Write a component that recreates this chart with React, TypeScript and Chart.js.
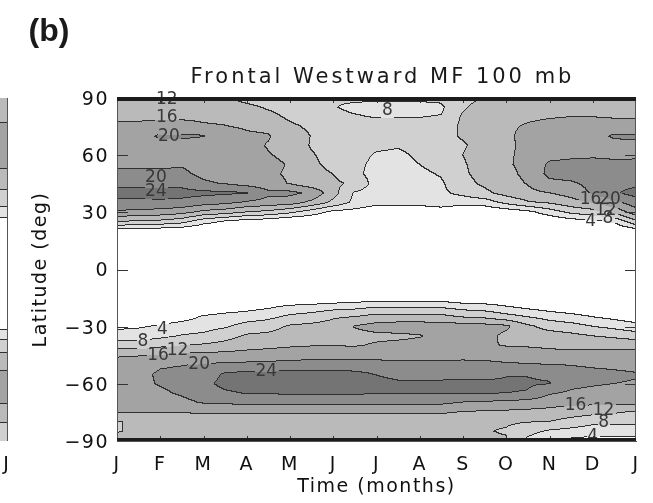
import { useEffect, useRef } from 'react';
import { Chart, registerables } from 'chart.js';

Chart.register(...registerables);

// ---------- axes / categories ----------
const monthLabels = ['J', 'F', 'M', 'A', 'M', 'J', 'J', 'A', 'S', 'O', 'N', 'D', 'J'];
const latitudeTicks = [-90, -60, -30, 0, 30, 60, 90];
const chartTitle = 'Frontal Westward MF 100 mb';
const panelLetter = '(b)';

// grid on which the field was read (months since 1 Jan, latitude in deg)
const gridMonths = [0, 0.5, 1, 1.5, 2, 2.5, 3, 3.5, 4, 4.5, 5, 5.5, 6, 6.5, 7, 7.5, 8, 8.5, 9, 9.5, 10, 10.5, 11, 11.5, 12];
const gridLatitudes = [90, 85, 80, 75, 70, 65, 60, 55, 50, 45, 40, 35, 30, 25, 20, 15, 10, 5, 0, -5, -10, -15, -20, -25, -30, -35, -40, -45, -50, -55, -60, -65, -70, -75, -80, -85, -90];

// ---------- momentum flux, one latitude profile (90N -> 90S) per half month ----------
const jan1 = [11, 14.5, 15.5, 16.5, 17.5, 18, 18.8, 19.5, 20.5, 23, 25.5, 23, 19.5, 12, 2, 0, 0, 0, 0, 0, 0, 0, 0, 0, 3, 6, 10, 15.5, 17.5, 18.5, 18.5, 18, 17.5, 16.2, 11.8, 11.8, 13];
const jan15 = [11, 14.5, 15.5, 16.5, 18.5, 18.3, 18.8, 19.5, 20.5, 23, 25.5, 23, 19, 11.5, 1.5, 0, 0, 0, 0, 0, 0, 0, 0, 0.5, 3.5, 6, 10, 15.7, 18, 19, 19, 18.5, 17.8, 16.3, 12.5, 12.5, 13];
const feb1 = [11.5, 14.5, 15.5, 17, 20.5, 19, 19, 19.5, 20.5, 23, 25.5, 23.3, 18.5, 11, 1, 0, 0, 0, 0, 0, 0, 0, 0, 1, 4.5, 7, 11, 16.2, 19.5, 20.5, 20.3, 19.3, 18, 16.3, 13, 12.5, 13];
const feb15 = [11.5, 14.5, 15.5, 17, 20.5, 19, 19, 19.7, 20.7, 22.8, 25.3, 23, 17.5, 9.5, 0.5, 0, 0, 0, 0, 0, 0, 0, 0, 2, 6, 8.2, 12.2, 16.8, 19.8, 21, 21.2, 20.5, 19, 16.3, 13, 12.5, 13];
const mar1 = [12, 14.5, 15.5, 16.3, 20.2, 18.5, 18.5, 18.8, 19.2, 20.5, 25, 21.8, 15, 5.5, 0, 0, 0, 0, 0, 0, 0, 0, 0.5, 4.5, 6.5, 8.8, 12.5, 17, 20.2, 22, 23, 22, 20.3, 16.5, 13, 12.5, 13];
const mar15 = [12.3, 14.3, 15.3, 16.1, 17.5, 18, 18.2, 18.5, 18.8, 19.8, 24.6, 21, 14, 3.5, 0, 0, 0, 0, 0, 0, 0, 0, 1.5, 5.5, 7.5, 10.5, 13.3, 17.3, 20.6, 24.5, 25, 23.5, 20.5, 16.5, 13, 12.5, 13];
const apr1 = [10.5, 13, 14.5, 15.6, 16.5, 17, 17.3, 17.8, 18.3, 18.5, 24.3, 19.5, 12, 2, 0, 0, 0, 0, 0, 0, 0, 0, 2.5, 6, 9.5, 12.5, 14.5, 17.5, 20.8, 25, 25.5, 24.2, 21, 16.8, 13, 12.5, 13];
const apr15 = [9.5, 11.5, 13.3, 15, 16.3, 15.8, 16.2, 16.8, 16.7, 17.5, 21, 18.5, 11, 1.5, 0, 0, 0, 0, 0, 0, 0, 0, 3.5, 7, 10.3, 13, 15, 17.8, 21, 25.2, 25.8, 24.3, 21, 16.8, 13, 12.5, 13];
const may1 = [8.8, 10, 11.3, 12.7, 14, 14.5, 15.2, 15.8, 15.5, 15.8, 21, 18, 9, 0, 0, 0, 0, 0, 0, 0, 0, 0, 5, 8.8, 12.5, 14, 15.5, 18.2, 21.2, 25.3, 26, 24.5, 21.2, 16.8, 13, 12.5, 13];
const may15 = [8.3, 9.3, 10.3, 11.3, 11.9, 11.7, 12.3, 12.6, 13, 13.5, 19.3, 15, 6, 0, 0, 0, 0, 0, 0, 0, 0, 0.3, 5.5, 9.8, 13, 14.5, 15.8, 18.5, 21.5, 25.3, 26, 24.5, 21.2, 16.8, 13, 12.5, 13];
const jun1 = [8.3, 8.2, 8.8, 9.5, 10.2, 10.5, 10.8, 11.2, 12, 12.8, 13.5, 11, 3, 0, 0, 0, 0, 0, 0, 0, 0, 0.5, 6.5, 11.5, 13.5, 14.8, 15.9, 18.5, 21.5, 25.3, 26, 24.5, 21, 16.8, 13, 12.5, 13];
const jun15 = [8.8, 7.3, 8.3, 9.2, 9.7, 10, 9.8, 9.3, 9, 11.3, 7.6, 7, 2.5, 0, 0, 0, 0, 0, 0, 0, 0, 1, 7, 12, 16.2, 14.8, 15.7, 18.5, 21.5, 25, 26, 24.5, 21, 16.8, 13, 12.5, 13];
const jul1 = [8.7, 6.8, 7.8, 9.3, 9.5, 9, 7.5, 6.8, 6.5, 6.3, 6, 5, 1.5, 0, 0, 0, 0, 0, 0, 0, 0, 1.5, 8, 13.5, 17.5, 15.2, 16.4, 18.5, 21.3, 23.8, 25.5, 24.3, 20.8, 16.8, 13, 12.5, 13];
const jul15 = [8.7, 6.8, 7.8, 9.3, 9.4, 8.3, 7.3, 6.8, 6.5, 6.3, 6, 5, 1.8, 0, 0, 0, 0, 0, 0, 0, 0, 1.5, 8, 13.5, 18, 15.3, 16.8, 18.5, 21, 22.5, 24.8, 24.3, 20.8, 16.8, 13, 12.5, 13];
const aug1 = [8.7, 7, 7.9, 9.2, 9.5, 9.3, 8.6, 8, 7.2, 6.8, 6.5, 5.5, 1, 0, 0, 0, 0, 0, 0, 0, 0, 1.5, 8, 13.5, 18, 15.8, 17, 18.5, 21, 22.5, 24.8, 24.3, 20.8, 16.8, 13, 12.5, 13];
const aug15 = [9, 7.3, 8.2, 9.6, 10.5, 10, 9.8, 9.3, 8.3, 7.5, 7.3, 6.5, 1.5, 0, 0, 0, 0, 0, 0, 0, 0, 1.5, 7.8, 13.2, 18, 16.8, 17, 18.5, 21, 22.5, 24.8, 24.3, 20.8, 16.6, 13, 12.5, 13];
const sep1 = [11, 11.5, 12.5, 12.8, 12.5, 11.5, 12, 11.5, 11.3, 10.5, 9, 5.7, 0, 0, 0, 0, 0, 0, 0, 0, 0, 0.5, 6.5, 11.8, 17.8, 18, 17.5, 18.8, 21, 22.7, 24.8, 24.3, 19.8, 15.8, 13, 12.5, 13];
const sep15 = [12, 13.5, 14, 14.2, 14, 13.8, 14, 14, 13.5, 12.8, 11, 6, 0.5, 0, 0, 0, 0, 0, 0, 0, 0, 0.3, 6, 11.2, 17.5, 17.5, 16.5, 18.5, 21, 22.8, 24.7, 24.2, 19.5, 15.5, 12.8, 12.3, 13];
const oct1 = [12.5, 14, 15, 15.5, 15.5, 15.3, 15.5, 15.5, 15, 14.5, 13.5, 9, 1.5, 0, 0, 0, 0, 0, 0, 0, 0, 0, 4.5, 9.5, 16.8, 15, 15.8, 18, 20.5, 23.7, 24.6, 24, 19, 15.3, 12.6, 11.6, 12.5];
const oct15 = [13, 14.5, 15.5, 16.3, 16.8, 16.8, 16.8, 17, 16.8, 16.2, 15, 11.5, 3, 0, 0, 0, 0, 0, 0, 0, 0, 0, 3.2, 8, 12.8, 14.5, 15.6, 17.8, 20.2, 23.8, 24.4, 23.8, 18.5, 15, 12.2, 9.5, 7];
const nov1 = [13, 14.7, 15.8, 16.8, 17.5, 18, 18.8, 20.6, 21, 19, 16, 12.5, 6, 0.5, 0, 0, 0, 0, 0, 0, 0, 0, 2, 6.5, 10.5, 13.8, 15.3, 17.3, 20, 23.3, 24.2, 20.5, 17.5, 14.8, 12, 7.5, 4];
const nov15 = [12.5, 14.5, 16, 17, 17.8, 18.3, 19.2, 21, 21.5, 19.5, 17.5, 14.5, 9, 2, 0, 0, 0, 0, 0, 0, 0, 0, 1.3, 5.3, 9.6, 13, 15, 17, 19.8, 21.5, 21.2, 19.3, 17, 14, 10.5, 6.8, 3];
const dec1 = [12, 14.3, 16, 17.2, 18.5, 18.5, 19.5, 21, 21.8, 21, 20.5, 16, 10.5, 3, 0, 0, 0, 0, 0, 0, 0, 0, 0.5, 4, 8, 12, 15, 17, 19.4, 21, 20.5, 18.8, 17, 13.2, 9.2, 5.8, 2.5];
const dec15 = [11.5, 14, 15.7, 17.5, 20.5, 19, 19.5, 20.5, 21.5, 22.5, 23.5, 19, 13, 4.5, 0, 0, 0, 0, 0, 0, 0, 0, 0, 2.8, 6.8, 11.2, 15, 17.3, 19.2, 20.6, 20, 18.5, 16.8, 12.5, 9.2, 5.8, 2.5];
const jan1Next = [11, 14.5, 15.5, 17.5, 20.5, 19.3, 19.6, 20.5, 21.5, 23, 25.5, 22, 18.5, 11, 1.5, 0, 0, 0, 0, 0, 0, 0, 0, 1.5, 5.5, 10, 15, 17.5, 19, 20.2, 19.8, 18.5, 17, 11.5, 9.2, 5.8, 2.8];

const fluxColumns = [jan1, jan15, feb1, feb15, mar1, mar15, apr1, apr15, may1, may15, jun1, jun15, jul1, jul15, aug1, aug15, sep1, sep15, oct1, oct15, nov1, nov15, dec1, dec15, jan1Next];

// right-hand edge of neighbouring panel (a), same latitude grid
const panelAEdge = [14, 13, 15, 17, 18, 18, 17, 16.5, 15, 13, 11, 9, 6, 2, 0, 0, 0, 0, 0, 0, 0, 0, 0, 0, 3, 7, 10, 13, 15, 17, 18, 17, 16, 14, 12, 11, 12];

// contour levels and shading
const contourLevels = [4, 8, 12, 16, 20, 24];
const bandGrays = ['#ffffff', '#e3e3e3', '#d0d0d0', '#bababa', '#a3a3a3', '#8c8c8c', '#747474'];
const lineGray = '#2f2f2f';

// contour labels
const labelTexts = ['12', '16', '20', '20', '24', '8', '16', '20', '12', '4', '8', '4', '8', '16', '12', '20', '24', '16', '12', '8', '4'];
const labelMonths = [1.15, 1.15, 1.2, 0.9, 0.9, 6.25, 10.95, 11.4, 11.3, 10.95, 11.35, 1.05, 0.6, 0.95, 1.4, 1.9, 3.45, 10.6, 11.25, 11.25, 11.0];
const labelLats = [89.3, 79.5, 69.5, 48.5, 41, 83.5, 36.5, 36.5, 31, 25, 26.5, -31.3, -38, -45, -42.3, -49.8, -53.5, -71.5, -74, -80.5, -87.5];

const FONT = "'DejaVu Sans', sans-serif";
const labelFont = `17px ${FONT}`;

function hexToRgb(h: string) {
  return [parseInt(h.slice(1, 3), 16), parseInt(h.slice(3, 5), 16), parseInt(h.slice(5, 7), 16)];
}

function locate(axis: number[], v: number): [number, number] {
  const n = axis.length;
  for (let k = 0; k < n - 1; k++) {
    const a = axis[k], b = axis[k + 1];
    if (v >= Math.min(a, b) && v <= Math.max(a, b)) return [k, (v - a) / (b - a)];
  }
  const asc = axis[n - 1] > axis[0];
  const before = asc ? v < axis[0] : v > axis[0];
  return before ? [0, 0] : [n - 2, 1];
}

function bandOf(v: number) {
  let b = 0;
  for (const lv of contourLevels) if (v >= lv) b++;
  return b;
}

const contourPlugin = {
  id: 'contourField',
  beforeDraw(chart: any) {
    const ctx = chart.ctx as CanvasRenderingContext2D;
    (ctx as any).letterSpacing = '1.5px';
    const xs = chart.scales.x, ys = chart.scales.y;
    const a = chart.chartArea;
    const L = Math.round(a.left), T = Math.round(a.top);
    const W = Math.round(a.right) - L, H = Math.round(a.bottom) - T;

    const cI = new Int32Array(W), cT = new Float64Array(W);
    for (let i = 0; i < W; i++) {
      const [k, t] = locate(gridMonths, xs.getValueForPixel(L + i + 0.5));
      cI[i] = k; cT[i] = t;
    }
    const rI = new Int32Array(H), rT = new Float64Array(H);
    for (let j = 0; j < H; j++) {
      const [k, t] = locate(gridLatitudes, ys.getValueForPixel(T + j + 0.5));
      rI[j] = k; rT[j] = t;
    }
    const bands = new Uint8Array(W * H);
    for (let j = 0; j < H; j++) {
      const r = rI[j], u = rT[j];
      for (let i = 0; i < W; i++) {
        const c = cI[i], t = cT[i];
        const c0 = fluxColumns[c], c1 = fluxColumns[c + 1];
        const top = c0[r] + (c1[r] - c0[r]) * t;
        const bot = c0[r + 1] + (c1[r + 1] - c0[r + 1]) * t;
        bands[j * W + i] = bandOf(top + (bot - top) * u);
      }
    }

    ctx.save();
    ctx.font = labelFont;
    (ctx as any).letterSpacing = '0px';
    const boxes = labelTexts.map((txt, n) => {
      const px = xs.getPixelForValue(labelMonths[n]) - L;
      const py = ys.getPixelForValue(labelLats[n]) - T;
      const w = ctx.measureText(txt).width;
      return [px - w / 2 - 1, px + w / 2 + 1, py - 7, py + 7];
    });
    ctx.restore();

    const img = ctx.createImageData(W, H);
    const pal = bandGrays.map(hexToRgb);
    const lc = hexToRgb(lineGray);
    for (let j = 0; j < H; j++) {
      for (let i = 0; i < W; i++) {
        const k = j * W + i;
        const b = bands[k];
        let isLine = (i + 1 < W && bands[k + 1] !== b) || (j + 1 < H && bands[k + W] !== b);
        if (isLine) {
          for (const bx of boxes) {
            if (i >= bx[0] && i <= bx[1] && j >= bx[2] && j <= bx[3]) { isLine = false; break; }
          }
        }
        const col = isLine ? lc : pal[b];
        img.data[k * 4] = col[0];
        img.data[k * 4 + 1] = col[1];
        img.data[k * 4 + 2] = col[2];
        img.data[k * 4 + 3] = 255;
      }
    }
    ctx.putImageData(img, L, T);

    ctx.save();
    ctx.font = labelFont;
    (ctx as any).letterSpacing = '0px';
    ctx.fillStyle = '#383838';
    ctx.textAlign = 'center';
    ctx.textBaseline = 'middle';
    labelTexts.forEach((txt, n) => {
      ctx.fillText(txt, xs.getPixelForValue(labelMonths[n]), ys.getPixelForValue(labelLats[n]));
    });

    // sliver of neighbouring panel (a)
    let prev = -1;
    for (let j = 0; j < H; j++) {
      const [k, t] = locate(gridLatitudes, ys.getValueForPixel(T + j + 0.5));
      const v = panelAEdge[k] + (panelAEdge[k + 1] - panelAEdge[k]) * t;
      const b = bandOf(v);
      ctx.fillStyle = prev >= 0 && prev !== b ? lineGray : bandGrays[b];
      ctx.fillRect(0, T + j, 7, 1);
      prev = b;
    }
    ctx.fillStyle = '#555';
    ctx.fillRect(7, T, 1, H);
    ctx.restore();
  },
  afterDraw(chart: any) {
    const ctx = chart.ctx as CanvasRenderingContext2D;
    const xs = chart.scales.x, ys = chart.scales.y;
    const a = chart.chartArea;
    ctx.save();
    (ctx as any).letterSpacing = '0px';
    ctx.strokeStyle = '#333';
    ctx.lineWidth = 1;
    ctx.beginPath();
    latitudeTicks.forEach((lat) => {
      if (Math.abs(lat) === 90) return;
      const y = Math.round(ys.getPixelForValue(lat)) + 0.5;
      ctx.moveTo(a.left, y); ctx.lineTo(a.left + 11, y);
      ctx.moveTo(a.right, y); ctx.lineTo(a.right - 11, y);
    });
    monthLabels.forEach((_, m) => {
      if (m === 0 || m === monthLabels.length - 1) return;
      const x = Math.round(xs.getPixelForValue(m)) + 0.5;
      ctx.moveTo(x, a.bottom); ctx.lineTo(x, a.bottom - 5);
      ctx.moveTo(x, a.top); ctx.lineTo(x, a.top + 5);
    });
    ctx.stroke();
    ctx.fillStyle = '#555';
    ctx.fillRect(Math.round(a.right) - 1, a.top, 1, a.bottom - a.top);
    ctx.fillStyle = '#1c1c1c';
    ctx.fillRect(a.left, a.top - 1, a.right - a.left, 4);
    ctx.fillRect(a.left, a.bottom - 3, a.right - a.left, 3);

    ctx.fillStyle = '#1a1a1a';
    ctx.textAlign = 'center';
    ctx.textBaseline = 'middle';
    ctx.font = `21px ${FONT}`;
    (ctx as any).letterSpacing = '3px';
    ctx.fillText(chartTitle, (a.left + a.right) / 2 + 6, a.top - 20);

    (ctx as any).letterSpacing = '0px';
    ctx.font = "bold 32px 'Liberation Sans', Arial, sans-serif";
    ctx.fillText(panelLetter, 49, 32);

    ctx.fillStyle = '#111';
    ctx.font = `19px ${FONT}`;
    ctx.fillText(monthLabels[monthLabels.length - 1], 6, a.bottom + 24);
    ctx.restore();
  },
};

export default function App() {
  const canvasRef = useRef<HTMLCanvasElement | null>(null);

  useEffect(() => {
    const canvas = canvasRef.current;
    if (!canvas) return;
    const chart = new Chart(canvas, {
      type: 'scatter',
      data: { datasets: [{ data: [], showLine: false }] },
      options: {
        responsive: false,
        animation: false,
        devicePixelRatio: 1,
        layout: { padding: { top: 98, right: 17, bottom: 0, left: 0 } },
        plugins: { legend: { display: false }, tooltip: { enabled: false }, title: { display: false } },
        scales: {
          x: {
            type: 'linear',
            min: 0,
            max: 12,
            afterFit: (s: any) => { s.height = 62; },
            afterBuildTicks: (s: any) => { s.ticks = monthLabels.map((_, i) => ({ value: i })); },
            ticks: {
              autoSkip: false,
              maxRotation: 0,
              padding: 13,
              color: '#111',
              font: { family: FONT, size: 19 },
              callback: (v: any) => monthLabels[Math.round(Number(v))] ?? '',
            },
            grid: { display: false, drawTicks: false },
            border: { display: true, color: '#555', width: 1 },
            title: {
              display: true,
              text: 'Time (months)',
              color: '#111',
              font: { family: FONT, size: 19 },
              padding: { top: 0, bottom: 5 },
            },
          },
          y: {
            type: 'linear',
            min: -90,
            max: 90,
            afterFit: (s: any) => { s.width = 117; },
            afterBuildTicks: (s: any) => { s.ticks = latitudeTicks.map((v) => ({ value: v })); },
            ticks: {
              padding: 8,
              labelOffset: 2,
              color: '#111',
              font: { family: FONT, size: 19 },
              callback: (v: any) => (Number(v) < 0 ? '\u2212' + Math.abs(Number(v)) : String(v)),
            },
            grid: { display: false, drawTicks: false },
            border: { display: true, color: '#555', width: 1 },
            title: {
              display: true,
              text: 'Latitude (deg)',
              color: '#111',
              font: { family: FONT, size: 19 },
              padding: { top: 30, bottom: 0 },
            },
          },
        },
      },
      plugins: [contourPlugin],
    } as any);
    return () => chart.destroy();
  }, []);

  return (
    <div style={{ position: 'fixed', left: 0, top: 0, width: 653, height: 503, background: '#ffffff' }}>
      <canvas ref={canvasRef} width={653} height={503} style={{ display: 'block' }} />
    </div>
  );
}
